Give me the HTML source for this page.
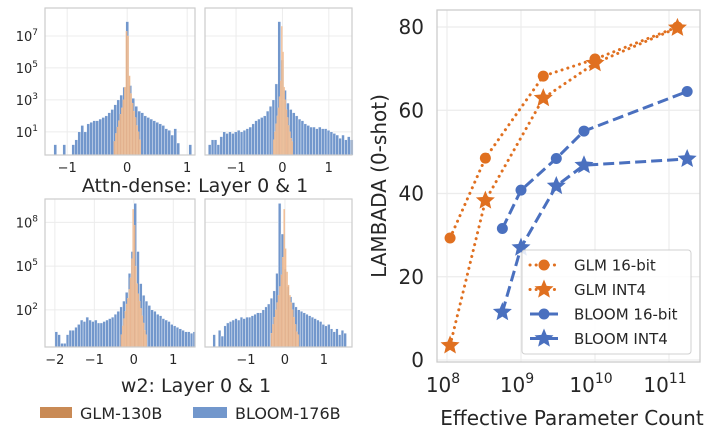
<!DOCTYPE html>
<html><head><meta charset="utf-8">
<style>
html,body{margin:0;padding:0;background:#fff;}
svg{display:block;font-family:"DejaVu Sans","Liberation Sans",sans-serif;}
</style></head>
<body>
<svg id="fig" width="720" height="437" viewBox="0 0 720 437" xmlns="http://www.w3.org/2000/svg">
<g id="hists"></g>
<g id="line"></g>
<text x="195" y="192" text-anchor="middle" font-size="19" fill="#262626">Attn-dense: Layer 0 &amp; 1</text>
<text x="196" y="392" text-anchor="middle" font-size="19" fill="#262626">w2: Layer 0 &amp; 1</text>
<g>
<rect x="40" y="407" width="32" height="11" fill="#c98a55"/>
<text x="80" y="419" font-size="16" fill="#262626">GLM-130B</text>
<rect x="193" y="407" width="34" height="11" fill="#7297cc"/>
<text x="235" y="419" font-size="16" fill="#262626">BLOOM-176B</text>
</g>
</svg>
<script>
// ---------- Histogram data (log10 counts per bin) ----------
const tlBloomStart=-1.225, tlBloomWidth=0.05;
const tlBloom=[0.2,-1,-1,0.2,-1,-1,0.2,0.5,1.0,1.4,1.0,1.5,1.6,1.7,1.7,1.8,1.9,2.0,2.2,2.4,2.7,3.0,3.3,3.8,7.9,3.9,3.1,2.6,2.3,2.2,2.0,1.9,1.8,1.7,1.6,1.5,1.4,1.2,1.1,0.8,1.2,0.3,-1,-1,-1,0.2];
const tlGlmStart=-0.225, tlGlmWidth=0.025;
const tlGlm=[0.4,0.9,1.3,1.7,2.1,2.5,3.0,3.8,7.3,7.0,4.5,3.4,2.8,2.3,1.9,1.4,1.0,0.5];
const trBloomStart=-1.6, trBloomWidth=0.0625;
const trBloom=[0.2,0.5,0.5,0.2,0.7,1.0,0.9,1.0,0.9,1.0,1.1,1.0,1.1,1.2,1.3,1.5,1.7,1.8,1.9,2.0,2.3,2.6,3.0,4.0,7.9,5.5,3.6,2.8,2.4,2.2,2.0,1.8,1.7,1.5,1.4,1.3,1.3,1.2,1.3,1.2,1.2,1.1,1.0,0.9,0.8,0.6,0.8,0.5,0.7,0.5];
const trGlmStart=-0.2, trGlmWidth=0.025;
const trGlm=[0.5,1.0,1.5,2.0,2.5,3.2,4.2,7.6,6.0,3.8,3.0,2.4,1.9,1.4,1.0,0.6,0.4];
const blBloomStart=-2.0, blBloomWidth=0.0714;
const blBloom=[0.5,0.3,-0.3,-0.3,0.3,0.6,0.6,0.8,1.0,1.3,1.2,1.5,1.3,1.2,1.3,1.1,1.1,1.2,1.3,1.4,1.5,1.7,1.9,2.2,2.6,3.2,4.5,6.0,9.3,6.0,3.8,3.0,2.6,2.3,2.0,1.9,1.7,1.6,1.4,1.3,1.2,1.0,0.9,0.8,0.7,0.6,0.5,0.5,0.4,0.5];
const blGlmStart=-0.33, blGlmWidth=0.033;
const blGlm=[0.3,0.9,1.4,1.9,2.4,2.8,3.4,4.2,5.5,8.9,7.8,5.0,3.8,3.1,2.6,2.1,1.6,1.1,0.6,0.3];
const brBloomStart=-1.85, brBloomWidth=0.07;
const brBloom=[0.3,-1,0.6,0.2,0.9,1.1,1.2,1.3,1.4,1.3,1.5,1.4,1.5,1.5,1.6,1.7,1.8,1.8,2.0,2.2,2.4,2.8,3.3,4.5,9.3,7.2,4.8,3.6,2.9,2.5,2.2,2.0,1.9,1.8,1.7,1.6,1.5,1.4,1.3,1.2,1.0,0.9,1.0,0.7,0.5,0.7,0.3,0.6,0.4];
const brGlmStart=-0.36, brGlmWidth=0.036;
const brGlm=[0.4,1.0,1.5,2.0,2.5,3.0,3.6,4.4,5.6,8.9,6.2,4.6,3.7,3.0,2.5,2.0,1.5,1.0,0.5,0.3];

// tick labels
const tlXTicks=[-1,0,1], trXTicks=[-1,0,1], blXTicks=[-2,-1,0,1], brXTicks=[-1,0,1];
const topYTicks=[1,3,5,7], botYTicks=[2,5,8];

// ---------- Line chart data ----------
const glm16Params=[1.1e8,3.3e8,2e9,1e10,1.3e11];
const glm16Vals=[29.3,48.5,68.2,72.3,80.0];
const glmInt4Params=[1.1e8,3.3e8,2e9,1e10,1.3e11];
const glmInt4Vals=[3.5,38.3,62.9,71.3,79.8];
const bloom16Params=[5.6e8,1e9,3e9,7.1e9,1.76e11];
const bloom16Vals=[31.6,40.8,48.4,55.0,64.5];
const bloomInt4Params=[5.6e8,1e9,3e9,7.1e9,1.76e11];
const bloomInt4Vals=[11.5,27.0,41.8,46.8,48.3];
const lineYTicks=[0,20,40,60,80];
const lineXTickExps=[8,9,10,11];

const NS="http://www.w3.org/2000/svg";
function mk(tag,attrs,parent){const e=document.createElementNS(NS,tag);for(const k in attrs)e.setAttribute(k,attrs[k]);parent.appendChild(e);return e;}

const H=document.getElementById('hists');
const panels=[
 {id:'top-left',x0:45,x1:195,y0:8,y1:155,xmin:-1.37,xmax:1.13,lmin:-0.45,lmax:8.75,bs:tlBloomStart,bw:tlBloomWidth,b:tlBloom,gs:tlGlmStart,gw:tlGlmWidth,g:tlGlm,xt:tlXTicks,yt:topYTicks,showY:true},
 {id:'top-right',x0:205,x1:352,y0:8,y1:155,xmin:-1.67,xmax:1.5,lmin:-0.45,lmax:8.75,bs:trBloomStart,bw:trBloomWidth,b:trBloom,gs:trGlmStart,gw:trGlmWidth,g:trGlm,xt:trXTicks,yt:topYTicks,showY:false},
 {id:'bottom-left',x0:45,x1:195,y0:199,y1:347,xmin:-2.25,xmax:1.55,lmin:-0.55,lmax:9.6,bs:blBloomStart,bw:blBloomWidth,b:blBloom,gs:blGlmStart,gw:blGlmWidth,g:blGlm,xt:blXTicks,yt:botYTicks,showY:true},
 {id:'bottom-right',x0:205,x1:352,y0:199,y1:347,xmin:-2.05,xmax:1.72,lmin:-0.55,lmax:9.6,bs:brBloomStart,bw:brBloomWidth,b:brBloom,gs:brGlmStart,gw:brGlmWidth,g:brGlm,xt:brXTicks,yt:botYTicks,showY:false}
];
panels.forEach(p=>{
  const g=mk('g',{},H);
  
  
  const sx=v=>p.x0+(v-p.xmin)/(p.xmax-p.xmin)*(p.x1-p.x0);
  const sy=l=>p.y1-(l-p.lmin)/(p.lmax-p.lmin)*(p.y1-p.y0);
  p.xt.forEach(t=>{
    const l=mk('line',{x1:sx(t),x2:sx(t),y1:p.y0,y2:p.y1,stroke:'#ececec','stroke-width':1},g);
    
    
    const tx=mk('text',{x:sx(t),y:p.y1+17,'text-anchor':'middle','font-size':13,fill:'#262626'},g);
    
    
    tx.textContent=t<0?'\u2212'+(-t):String(t);
  });
  p.yt.forEach(t=>{
    const l=mk('line',{x1:p.x0,x2:p.x1,y1:sy(t),y2:sy(t),stroke:'#ececec','stroke-width':1},g);
    
    
    if(p.showY){
      const tx=mk('text',{x:p.x0-7,y:sy(t)+5,'text-anchor':'end','font-size':13,fill:'#262626'},g);
      
      
      tx.textContent='10';
      const sp=mk('tspan',{dy:-6,'font-size':9},tx);
      sp.textContent=String(t);
    }
  });
  p.b.forEach((v,i)=>{
    if(v<=p.lmin) return;
    const xa=sx(p.bs+i*p.bw), xb=sx(p.bs+(i+1)*p.bw);
    const r=mk('rect',{x:xa,y:sy(v),width:Math.max(0.5,xb-xa),height:p.y1-sy(v),fill:'#7297cc',stroke:'#ffffff','stroke-width':0.4},g);
    
    
  });
  p.g.forEach((v,i)=>{
    if(v<=p.lmin) return;
    const xa=sx(p.gs+i*p.gw), xb=sx(p.gs+(i+1)*p.gw);
    const r=mk('rect',{x:xa,y:sy(v),width:Math.max(0.5,xb-xa),height:p.y1-sy(v),fill:'#eeb487','fill-opacity':0.9,stroke:'#f4cfae','stroke-width':0.3},g);
    
    
  });
  const fr=mk('rect',{x:p.x0,y:p.y0,width:p.x1-p.x0,height:p.y1-p.y0,fill:'none',stroke:'#cccccc','stroke-width':1.2},g);
  
  
});

// ---------- Line chart ----------
const L=document.getElementById('line');
const X0=437,X1=700,Y0=10,Y1=362;
const lx=p=>447+(Math.log10(p)-8)*74;
const ly=v=>360-v*4.1625;
lineXTickExps.forEach(e=>{
  const l=mk('line',{x1:lx(Math.pow(10,e)),x2:lx(Math.pow(10,e)),y1:Y0,y2:Y1,stroke:'#ececec','stroke-width':1.2},L);
  
  
  const t=mk('text',{x:lx(Math.pow(10,e))-4,y:392,'text-anchor':'middle','font-size':20,fill:'#262626'},L);
  
  
  t.textContent='10';
  const sp=mk('tspan',{dy:-9,'font-size':14},t);
  sp.textContent=String(e);
});
lineYTicks.forEach(v=>{
  const l=mk('line',{x1:X0,x2:X1,y1:ly(v),y2:ly(v),stroke:'#ececec','stroke-width':1.2},L);
  
  
  const t=mk('text',{x:424,y:ly(v)+7,'text-anchor':'end','font-size':20,fill:'#262626'},L);
  
  
  t.textContent=String(v);
});
const fr=mk('rect',{x:X0,y:Y0,width:X1-X0,height:Y1-Y0,fill:'none',stroke:'#cccccc','stroke-width':1.3},L);



function starPath(cx,cy,R){const r=R*0.45;let d='';for(let i=0;i<10;i++){const a=-Math.PI/2+i*Math.PI/5;const rr=i%2?r:R;d+=(i?'L':'M')+(cx+rr*Math.cos(a)).toFixed(2)+' '+(cy+rr*Math.sin(a)).toFixed(2);}return d+'Z';}
const series=[
 {name:'glm-16bit',px:glm16Params,v:glm16Vals,c:'#e07020',dash:'0.1 6',cap:'round',m:'circle'},
 {name:'glm-int4',px:glmInt4Params,v:glmInt4Vals,c:'#e07020',dash:'0.1 6',cap:'round',m:'star'},
 {name:'bloom-16bit',px:bloom16Params,v:bloom16Vals,c:'#4a70bf',dash:'11 5',cap:'butt',m:'circle'},
 {name:'bloom-int4',px:bloomInt4Params,v:bloomInt4Vals,c:'#4a70bf',dash:'11 5',cap:'butt',m:'star'}
];
series.forEach(s=>{
  const g=mk('g',{},L);
  
  
  const pts=s.px.map((p,i)=>lx(p).toFixed(1)+','+ly(s.v[i]).toFixed(1)).join(' ');
  const pl=mk('polyline',{points:pts,fill:'none',stroke:s.c,'stroke-width':3,'stroke-dasharray':s.dash,'stroke-linecap':s.cap},g);
  
  
  s.px.forEach((p,i)=>{
    let m;
    if(s.m==='circle') m=mk('circle',{cx:lx(p),cy:ly(s.v[i]),r:5.5,fill:s.c},g);
    else m=mk('path',{d:starPath(lx(p),ly(s.v[i]),10),fill:s.c},g);
    
    
  });
});
// legend
const lg=mk('g',{},L);


const lb=mk('rect',{x:522,y:250,width:169,height:104,rx:3,fill:'#ffffff','fill-opacity':0.85,stroke:'#d0d0d0','stroke-width':1},lg);


const legendLabels=['GLM 16-bit','GLM INT4','BLOOM 16-bit','BLOOM INT4'];
series.forEach((s,i)=>{
  const y=265+i*24.5;
  const ent=mk('g',{},lg);
  
  
  mk('line',{x1:530,x2:558,y1:y,y2:y,stroke:s.c,'stroke-width':3,'stroke-dasharray':s.cap==='round'?'0.1 6':'30 0','stroke-linecap':s.cap},ent);
  if(s.m==='circle') mk('circle',{cx:544,cy:y,r:5.5,fill:s.c},ent);
  else mk('path',{d:starPath(544,y,10),fill:s.c},ent);
  const t=mk('text',{x:574,y:y+5.5,'font-size':15,fill:'#262626'},ent);
  
  
  t.textContent=legendLabels[i];
});
const yt=mk('text',{x:0,y:0,'text-anchor':'middle','font-size':20,fill:'#262626',transform:'translate(386,186) rotate(-90)'},L);


yt.textContent='LAMBADA (0-shot)';
const xt=mk('text',{x:572,y:425,'text-anchor':'middle','font-size':20,fill:'#262626'},L);


xt.textContent='Effective Parameter Count';
</script>
</body></html>
